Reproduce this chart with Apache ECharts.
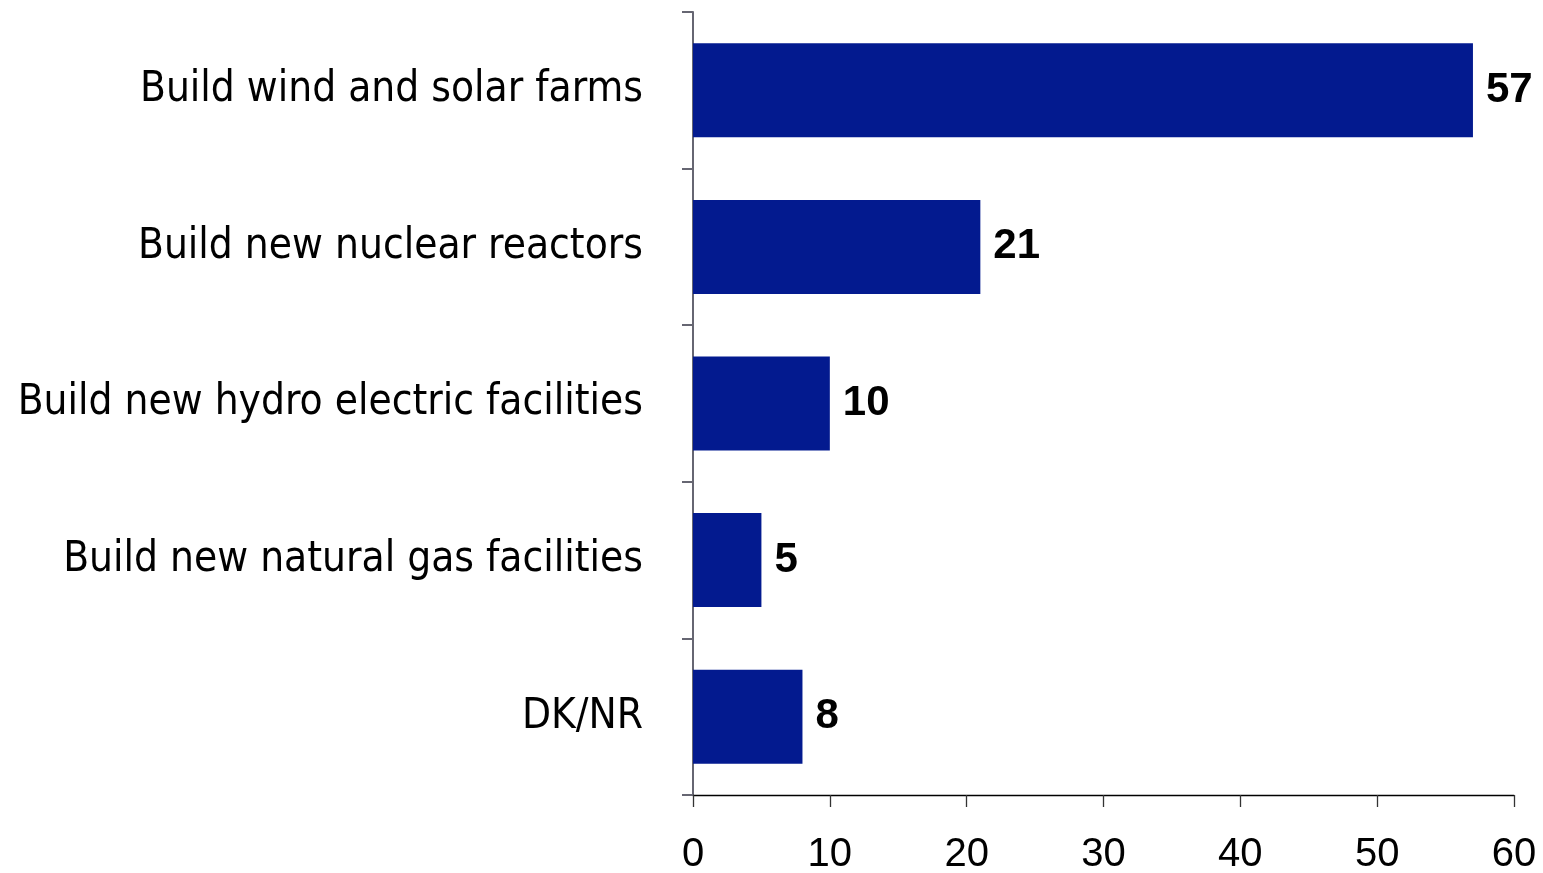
<!DOCTYPE html>
<html>
<head>
<meta charset="utf-8">
<script src="https://cdn.jsdelivr.net/npm/echarts@6/dist/echarts.min.js"></script>
<style>
  html, body { margin: 0; padding: 0; background: #fff; }
  #chart { width: 1543px; height: 873px; }
</style>
</head>
<body>
<div id="chart"></div>
<script>
const categories = [
  'Build wind and solar farms',
  'Build new nuclear reactors',
  'Build new hydro electric facilities',
  'Build new natural gas facilities',
  'DK/NR'
];
const values = [57, 21, 10, 5, 8];
const xTicks = [0, 10, 20, 30, 40, 50, 60];

const chart = echarts.init(document.getElementById('chart'));

const option = {
  animation: false,
  grid: { left: 693, right: 29, top: 12, bottom: 78, containLabel: false, outerBoundsMode: 'none' },
  xAxis: {
    type: 'value',
    min: xTicks[0],
    max: xTicks[xTicks.length - 1],
    interval: 10,
    splitLine: { show: false },
    axisLine: { show: true, lineStyle: { color: '#000', width: 1.3 } },
    axisTick: { show: true, length: 12, lineStyle: { color: '#333', width: 1.3 } },
    axisLabel: {
      margin: 40,
      color: '#000',
      fontSize: 40,
      fontFamily: 'Liberation Sans, Arial, sans-serif'
    }
  },
  yAxis: {
    type: 'category',
    data: categories,
    inverse: true,
    axisLine: { show: true, lineStyle: { color: '#666672', width: 2 } },
    axisTick: { show: true, length: 11, lineStyle: { color: '#666672', width: 2 } },
    axisLabel: {
      margin: 50,
      color: '#000',
      fontSize: 42,
      fontFamily: '"Liberation Sans Narrow", "Arial Narrow", "DejaVu Sans Condensed", sans-serif'
    }
  },
  series: [{
    type: 'bar',
    data: values,
    barCategoryGap: '40%',
    itemStyle: { color: '#031A8F' },
    label: {
      show: true,
      position: 'right',
      distance: 13,
      color: '#000',
      fontSize: 42,
      fontWeight: 'bold',
      fontFamily: 'Liberation Sans, Arial, sans-serif'
    }
  }]
};

chart.setOption(option);
</script>
</body>
</html>
